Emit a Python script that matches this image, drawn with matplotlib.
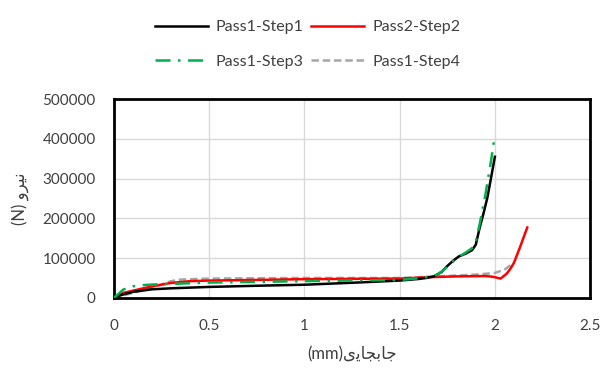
import matplotlib.pyplot as plt

# Pass1-Step1 (black)
x1 = [0, 0.03, 0.1, 0.2, 0.3, 0.5, 0.8, 1.0, 1.3, 1.5, 1.6, 1.64, 1.68, 1.72, 1.75, 1.78, 1.81, 1.85, 1.88, 1.9, 1.92, 1.94, 1.96, 1.98, 2.0]
y1 = [0, 6000, 15000, 21500, 24000, 27500, 31000, 33000, 39000, 43500, 47500, 50000, 54000, 65000, 80000, 93000, 104000, 112000, 120000, 134000, 176000, 212000, 251000, 302000, 355000]

# Pass2-Step2 (red)
x2 = [0, 0.05, 0.1, 0.2, 0.3, 0.4, 0.5, 0.8, 1.0, 1.3, 1.5, 1.65, 1.8, 1.95, 1.99, 2.03, 2.06, 2.08, 2.1, 2.13, 2.17]
y2 = [0, 12500, 18000, 29000, 37500, 42000, 43500, 45500, 47000, 48000, 48500, 52000, 54000, 55000, 53000, 48500, 60000, 72000, 88000, 125000, 177000]

# Pass1-Step3 (green, dash-dot)
x3 = [0, 0.05, 0.1, 0.15, 0.2, 0.3, 0.5, 0.8, 1.0, 1.3, 1.5, 1.62, 1.7, 1.75, 1.8, 1.85, 1.88, 1.9, 1.92, 1.95, 1.98, 2.0]
y3 = [0, 21000, 29000, 32000, 33500, 35000, 38500, 40500, 42000, 44000, 45000, 50000, 58500, 78000, 100000, 115000, 125000, 142000, 185000, 259000, 345000, 410000]

# Pass1-Step4 (gray, dashed)
x4 = [0, 0.1, 0.2, 0.3, 0.35, 0.5, 0.8, 1.0, 1.5, 1.7, 1.9, 2.0, 2.05, 2.1]
y4 = [0, 12500, 25000, 42000, 46000, 48500, 49500, 50000, 50000, 54000, 58500, 62700, 71000, 88000]

xticks = [0, 0.5, 1, 1.5, 2, 2.5]
yticks = [0, 100000, 200000, 300000, 400000, 500000]

plt.rcParams['font.family'] = ['Lato', 'DejaVu Sans']

fig = plt.figure(figsize=(6.09, 3.70), dpi=100)
ax = fig.add_axes([0.187, 0.195, 0.782, 0.537])

l1, = ax.plot(x1, y1, color='black', lw=1.8, label='Pass1-Step1', zorder=4)
l2, = ax.plot(x2, y2, color='#ff0000', lw=1.8, label='Pass2-Step2', zorder=3)
l3, = ax.plot(x3, y3, color='#00b050', lw=1.8, linestyle=(0, (6, 3, 1, 3)), label='Pass1-Step3', zorder=5)
l4, = ax.plot(x4, y4, color='#a6a6a6', lw=1.8, linestyle=(0, (3, 1.5)), label='Pass1-Step4', zorder=2)

ax.set_xlim(0, 2.5)
ax.set_ylim(0, 500000)
ax.set_xticks(xticks)
ax.set_xticklabels(['0', '0.5', '1', '1.5', '2', '2.5'])
ax.set_yticks(yticks)
ax.set_yticklabels([str(v) for v in yticks])
ax.tick_params(length=0, labelsize=11, colors='#404040')
ax.tick_params(axis='x', pad=15)
ax.tick_params(axis='y', pad=13)
ax.grid(True, color='#d9d9d9', lw=1)
ax.set_axisbelow(True)
for s in ax.spines.values():
    s.set_linewidth(2)
    s.set_color('black')

# برچسب‌ها (حروف فارسی به شکل نمایشی)
ax.set_xlabel('(mm)\ufbfc\ufbfe\ufe8e\ufea0\ufe91\ufe8e\ufe9f', fontsize=12, color='#404040', labelpad=10)
ax.set_ylabel('(N) \ufeed\ufeae\ufbff\ufee7', fontsize=12, color='#404040', labelpad=10)

handles = [l1, l3, l2, l4]
fig.legend(handles, [h.get_label() for h in handles], loc='upper center',
           bbox_to_anchor=(0.505, 0.985), ncol=2, frameon=False,
           fontsize=11.5, handlelength=3.3, columnspacing=0.5, labelspacing=1.3,
           handletextpad=0.5, labelcolor='#404040')

fig.savefig('out.png', dpi=100)
